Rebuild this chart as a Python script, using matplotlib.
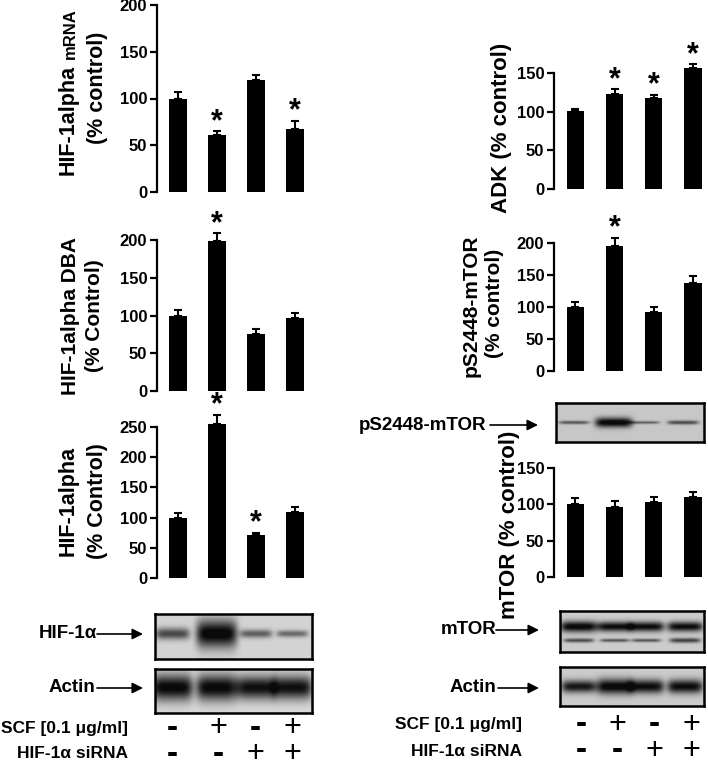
import numpy as np
import matplotlib
matplotlib.use('Agg')
import matplotlib.pyplot as plt

plt.rcParams['font.family'] = ['Liberation Sans', 'DejaVu Sans']
plt.rcParams['font.weight'] = 'bold'

W, H = 708, 765

# bar chart data (% control), groups: ctrl, SCF, siRNA, SCF+siRNA
mrna = [100, 61, 120, 67]
mrna_err = [7, 4, 5, 9]
mrna_star = [False, True, False, True]

adk = [101, 123, 118, 157]
adk_err = [2, 6, 4, 4]
adk_star = [False, True, True, True]

dba = [100, 199, 75, 97]
dba_err = [7, 10, 7, 6]
dba_star = [False, True, False, False]

pmtor = [100, 195, 92, 137]
pmtor_err = [8, 13, 8, 12]
pmtor_star = [False, True, False, False]

hif = [100, 255, 71, 109]
hif_err = [7, 15, 4, 9]
hif_star = [False, True, True, False]

mtor = [100, 96, 103, 110]
mtor_err = [9, 9, 7, 7]
mtor_star = [False, False, False, False]

# blot band strengths (relative darkness per lane)
hif_band = [0.65, 1.0, 0.55, 0.5]
actin_left = [1.0, 1.0, 0.95, 0.95]
pmtor_band = [0.55, 0.95, 0.5, 0.6]
mtor_upper = [0.95, 0.9, 0.9, 0.9]
mtor_lower = [0.6, 0.55, 0.55, 0.65]
actin_right = [0.85, 0.95, 0.9, 0.9]

scf = ['-', '+', '-', '+']
sirna = ['-', '-', '+', '+']

fig = plt.figure(figsize=(W / 100, H / 100), dpi=100)


def rect(l, t, r, b):
    return [l / W, 1 - b / H, (r - l) / W, (b - t) / H]


def bar_panel(l, t, b, vals, errs, stars, ymax, spacing=39):
    r = l + 3.85 * spacing
    ax = fig.add_axes(rect(l, t, r, b))
    x = np.arange(len(vals))
    ax.bar(x, vals, width=0.44, color='black', clip_on=False, zorder=2)
    eb = ax.errorbar(x, vals, yerr=[np.zeros(len(errs)), errs], fmt='none',
                     ecolor='black', elinewidth=1.5, capsize=3, capthick=1.5)
    for art in list(eb.lines[1]) + list(eb.lines[2]):
        art.set_clip_on(False)
    for xi, v, e, s in zip(x, vals, errs, stars):
        if s:
            ax.annotate('*', (xi, v + e), xytext=(0, -4), textcoords='offset points',
                        ha='center', va='bottom', fontsize=22, fontweight='bold',
                        annotation_clip=False)
    ax.set_xlim(-0.54, 3.31)
    ax.set_ylim(0, ymax)
    ax.set_yticks(np.arange(0, ymax + 1, 50))
    for s in ['top', 'right', 'bottom']:
        ax.spines[s].set_visible(False)
    ax.spines['left'].set_linewidth(1.6)
    ax.set_xticks([])
    ax.tick_params(axis='y', length=5, width=1.6, labelsize=12, pad=2)
    ax.patch.set_alpha(0)
    return ax


bar_panel(157, 5, 192, mrna, mrna_err, mrna_star, 200)
bar_panel(554, 73, 189, adk, adk_err, adk_star, 150, 39.3)
bar_panel(157, 240, 391, dba, dba_err, dba_star, 200)
bar_panel(554, 243, 371, pmtor, pmtor_err, pmtor_star, 200, 39.3)
bar_panel(157, 427, 578, hif, hif_err, hif_star, 250)
bar_panel(554, 468, 577, mtor, mtor_err, mtor_star, 150, 39.3)


def blot(l, t, r, b, lanes, rows, bg=0.83):
    ax = fig.add_axes(rect(l, t, r, b))
    X, Y = np.meshgrid(np.linspace(0, 1, 300), np.linspace(0, 1, 80))
    dark = np.zeros_like(X)
    for yc, vals, thick in rows:
        for lx, v in zip(lanes, vals):
            lw = 0.07 + 0.06 * v
            h = thick * v ** 2
            dark += v * np.exp(-((X - lx) / lw) ** 6) * np.exp(-((Y - yc) / h) ** 2)
    img = np.clip(bg - 0.85 * dark, 0.04, 1)
    ax.imshow(img, cmap='gray', vmin=0, vmax=1, extent=(0, 1, 1, 0),
              aspect='auto', interpolation='bilinear')
    ax.set_xlim(0, 1)
    ax.set_ylim(1, 0)
    ax.set_xticks([])
    ax.set_yticks([])
    for s in ax.spines.values():
        s.set_linewidth(1.8)
    return ax


blot(155, 614, 312, 659, [0.11, 0.39, 0.64, 0.87], [(0.45, hif_band, 0.3)])
blot(155, 669, 312, 713, [0.11, 0.39, 0.64, 0.87], [(0.42, actin_left, 0.3)], bg=0.86)
blot(556, 403, 704, 442, [0.12, 0.39, 0.6, 0.86], [(0.5, pmtor_band, 0.14)], bg=0.78)
blot(560, 611, 704, 652, [0.13, 0.38, 0.6, 0.87],
     [(0.38, mtor_upper, 0.15), (0.72, mtor_lower, 0.14)], bg=0.8)
blot(560, 667, 704, 706, [0.13, 0.38, 0.6, 0.87], [(0.5, actin_right, 0.22)], bg=0.8)

# overlay for labels and arrows, in pixel units
ov = fig.add_axes([0, 0, 1, 1])
ov.set_xlim(0, W)
ov.set_ylim(H, 0)
ov.axis('off')
ov.patch.set_alpha(0)

yl = 15.5
ov.text(68, 120, 'HIF-1alpha', rotation=90, ha='center', va='center', fontsize=yl)
ov.text(70, 34, 'mRNA', rotation=90, ha='center', va='center', fontsize=12)
ov.text(97, 88, '(% control)', rotation=90, ha='center', va='center', fontsize=yl)
ov.text(501, 128, 'ADK (% control)', rotation=90, ha='center', va='center', fontsize=16)
ov.text(71, 316, 'HIF-1alpha DBA', rotation=90, ha='center', va='center', fontsize=15)
ov.text(95, 316, '(% Control)', rotation=90, ha='center', va='center', fontsize=15)
ov.text(471, 306, 'pS2448-mTOR', rotation=90, ha='center', va='center', fontsize=15)
ov.text(495, 303, '(% control)', rotation=90, ha='center', va='center', fontsize=15)
ov.text(68, 501, 'HIF-1alpha', rotation=90, ha='center', va='center', fontsize=yl)
ov.text(97, 501, '(% Control)', rotation=90, ha='center', va='center', fontsize=yl)
ov.text(509, 525, 'mTOR (% control)', rotation=90, ha='center', va='center', fontsize=16)


def label_arrow(text, x_end, x0, x1, y):
    ov.text(x_end, y, text, ha='right', va='center', fontsize=13.5)
    ov.annotate('', xy=(x1, y), xytext=(x0, y),
                arrowprops=dict(arrowstyle='-|>', color='black', lw=1.2,
                                mutation_scale=16, shrinkA=0, shrinkB=0))


label_arrow('pS2448-mTOR', 486, 490, 538, 425)
label_arrow('HIF-1α', 97, 97, 143, 634)
label_arrow('Actin', 95, 97, 143, 688)
label_arrow('mTOR', 496, 496, 539, 630)
label_arrow('Actin', 496, 498, 539, 688)


def sign_rows(x_end, xs, y1, y2):
    ov.text(x_end, y1, 'SCF [0.1 μg/ml]', ha='right', va='center', fontsize=12.5)
    ov.text(x_end, y2, 'HIF-1α siRNA', ha='right', va='center', fontsize=12.5)
    for row, y in [(scf, y1), (sirna, y2)]:
        for x, s in zip(xs, row):
            if s == '+':
                ov.text(x, y, '+', ha='center', va='center', fontsize=22, fontweight='normal')
            else:
                ov.text(x, y, '-', ha='center', va='center', fontsize=24, fontweight='bold')


sign_rows(128, [172, 218, 255, 292], 728, 754)
sign_rows(522, [581, 617, 654, 691], 725, 751)

fig.savefig('out.png', dpi=100)
